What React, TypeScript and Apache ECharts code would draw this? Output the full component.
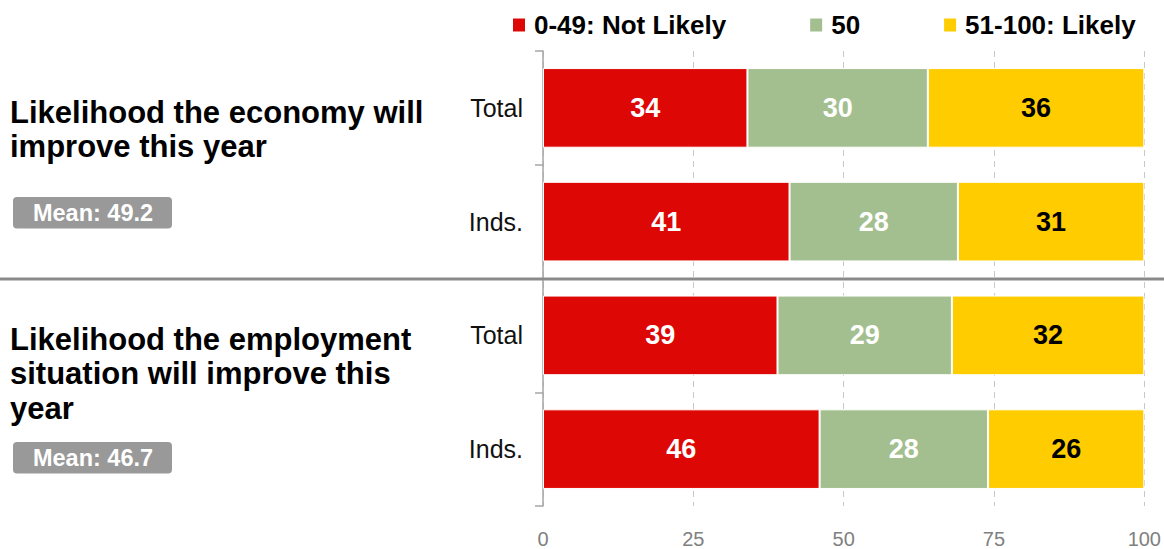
import React, { useEffect, useRef } from "react";
import * as echarts from "echarts";

const categoryIds = ["econ-total", "econ-inds", "emp-total", "emp-inds"];
const categoryLabels = ["Total", "Inds.", "Total", "Inds."];
const seriesNames = ["0-49: Not Likely", "50", "51-100: Likely"];
const notLikely = [34, 41, 39, 46];
const neutral = [30, 28, 29, 28];
const likely = [36, 31, 32, 26];
const xTicks = [0, 25, 50, 75, 100];
const titles = [
  ["Likelihood the economy will", "improve this year"],
  ["Likelihood the employment", "situation will improve this", "year"],
];
const means = ["Mean: 49.2", "Mean: 46.7"];

const FONT = "'Liberation Sans', Arial, sans-serif";
const colors = ["#DD0806", "#A3BF8F", "#FFCC00"];
const labelColors = ["#ffffff", "#ffffff", "#000000"];

export default function App() {
  const ref = useRef<HTMLDivElement>(null);
  useEffect(() => {
    const chart = echarts.init(ref.current!, null, { renderer: "svg" });
    const values = [notLikely, neutral, likely];
    const series = seriesNames.map((name, i) => ({
      name,
      type: "bar",
      stack: "total",
      barCategoryGap: "30%",
      data: values[i],
      itemStyle: { color: colors[i], borderColor: "#ffffff", borderWidth: 1 },
      label: {
        show: true,
        position: "inside",
        color: labelColors[i],
        fontFamily: FONT,
        fontWeight: "bold",
        fontSize: 27,
      },
    }));

    const graphics: any[] = [];
    const titleCenters = [112, 339];
    titles.forEach((lines, t) => {
      lines.forEach((line, j) => {
        graphics.push({
          type: "text",
          x: 10,
          y: titleCenters[t] + j * 34.5,
          style: {
            text: line,
            fontFamily: FONT,
            fontWeight: "bold",
            fontSize: 31,
            fill: "#000000",
            verticalAlign: "middle",
          },
        });
      });
    });
    const badgeTops = [197, 442];
    means.forEach((m, i) => {
      graphics.push({
        type: "group",
        x: 13,
        y: badgeTops[i],
        children: [
          {
            type: "rect",
            shape: { x: 0, y: 0, width: 159, height: 31.5, r: 4 },
            style: { fill: "#999999" },
          },
          {
            type: "text",
            x: 80,
            y: 16,
            style: {
              text: m,
              fontFamily: FONT,
              fontWeight: "bold",
              fontSize: 23.5,
              fill: "#ffffff",
              align: "center",
              verticalAlign: "middle",
            },
          },
        ],
      });
    });
    graphics.push({
      type: "line",
      shape: { x1: 0, y1: 279, x2: 1164, y2: 279 },
      style: { stroke: "#8a8a8a", lineWidth: 3 },
      z: 10,
    });

    chart.setOption({
      animation: false,
      legend: {
        top: 7,
        left: 506,
        icon: "rect",
        itemWidth: 14,
        itemHeight: 15,
        itemGap: 82,
        textStyle: {
          fontFamily: FONT,
          fontWeight: "bold",
          fontSize: 26,
          color: "#000000",
          padding: [0, 0, 0, 3],
        },
        data: seriesNames,
      },
      grid: { left: 543, right: 19, top: 51, bottom: 43, containLabel: false },
      xAxis: {
        type: "value",
        min: 0,
        max: 100,
        interval: 25,
        axisLine: { show: false },
        axisTick: { show: false },
        splitLine: {
          show: true,
          lineStyle: { color: "#c8c8c8", type: [6, 5], width: 1 },
        },
        axisLabel: {
          color: "#808080",
          fontFamily: FONT,
          fontSize: 20,
          margin: 23,
          formatter: (v: number) => (xTicks.includes(v) ? String(v) : ""),
        },
      },
      yAxis: {
        type: "category",
        inverse: true,
        data: categoryIds,
        axisLine: { show: true, lineStyle: { color: "#a6a6a6", width: 1.5 } },
        axisTick: { show: true, length: 8, lineStyle: { color: "#a6a6a6", width: 1.5 } },
        axisLabel: {
          color: "#111111",
          fontFamily: FONT,
          fontSize: 25,
          margin: 20,
          formatter: (v: string) => categoryLabels[categoryIds.indexOf(v)],
        },
      },
      series,
      graphic: graphics,
    });
    return () => chart.dispose();
  }, []);
  return <div ref={ref} style={{ width: 1164, height: 549, position: "absolute", left: 0, top: 0 }} />;
}
